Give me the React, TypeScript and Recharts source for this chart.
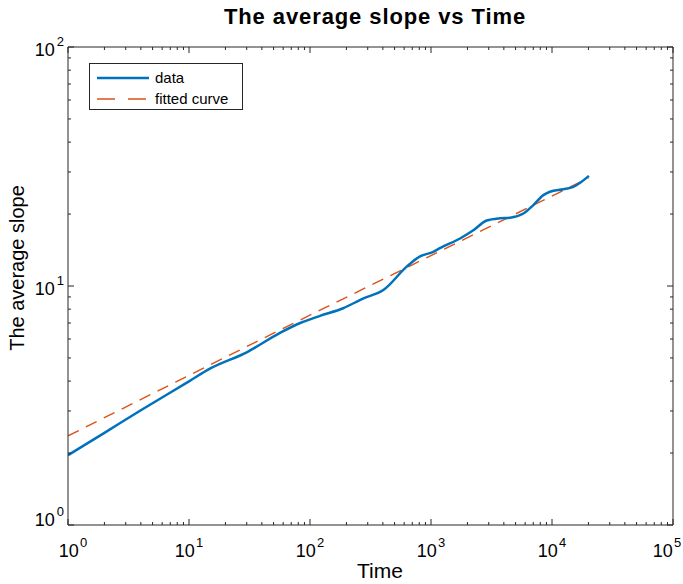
import React from "react";
import { LineChart, Line, XAxis, YAxis, Legend } from "recharts";

const dataX = [1, 2, 4, 10, 15, 30, 56, 83, 121, 188, 277, 404, 630, 811, 1045, 1186, 1738, 2238, 2886, 3720, 4500, 5800, 7010, 8480, 9620, 12400, 15000, 20200];
const dataY = [1.96, 2.43, 3.02, 3.99, 4.52, 5.28, 6.35, 7.0, 7.5, 8.07, 8.88, 9.62, 12.05, 13.3, 13.9, 14.4, 15.8, 17.1, 18.8, 19.2, 19.3, 20.1, 21.8, 24.0, 24.8, 25.4, 26.0, 28.9];

const fitX = [1, 56.5, 1000, 20000];
const fitY = [2.36, 6.55, 13.4, 28.3];

const xTicks = [1, 2, 3, 4, 5, 6, 7, 8, 9, 10, 20, 30, 40, 50, 60, 70, 80, 90, 100, 200, 300, 400, 500, 600, 700, 800, 900, 1000, 2000, 3000, 4000, 5000, 6000, 7000, 8000, 9000, 10000, 20000, 30000, 40000, 50000, 60000, 70000, 80000, 90000, 100000];
const yTicks = [1, 2, 3, 4, 5, 6, 7, 8, 9, 10, 20, 30, 40, 50, 60, 70, 80, 90, 100];

const dataSeries = dataX.map((x, i) => ({ x, y: dataY[i] }));
const fitSeries = fitX.map((x, i) => ({ x, y: fitY[i] }));

const AXIS = "#262626";
const BLUE = "#0072BD";
const ORANGE = "#D95319";
const FONT = "'Liberation Sans', Arial, Helvetica, sans-serif";

const exponent = (v: number) => {
  const e = Math.log10(v);
  return Math.abs(e - Math.round(e)) < 1e-9 ? Math.round(e) : null;
};

const BottomTick = (props: any) => {
  const { x, y, payload } = props;
  const e = exponent(payload.value);
  const len = e !== null ? 6 : 3;
  const shift = payload.value === 1 ? 5 : payload.value === 100000 ? -6 : 0;
  return (
    <g>
      <line x1={x} x2={x} y1={y} y2={y - len} stroke={AXIS} strokeWidth={1} />
      {e !== null && (
        <text x={x + shift} y={y + 32} textAnchor="middle" fontSize={18} fill="#000" fontFamily={FONT}>
          <tspan>10</tspan>
          <tspan dy={-10} dx={1} fontSize={13}>{e}</tspan>
        </text>
      )}
    </g>
  );
};

const TopTick = (props: any) => {
  const { x, y, payload } = props;
  const e = exponent(payload.value);
  const len = e !== null ? 6 : 3;
  return <line x1={x} x2={x} y1={y} y2={y + len} stroke={AXIS} strokeWidth={1} />;
};

const LeftTick = (props: any) => {
  const { x, y, payload } = props;
  const e = exponent(payload.value);
  const len = e !== null ? 6 : 3;
  const base = payload.value === 1 ? y + 1 : y + 9;
  return (
    <g>
      <line x1={x} x2={x + len} y1={y} y2={y} stroke={AXIS} strokeWidth={1} />
      {e !== null && (
        <text x={x - 4} y={base} textAnchor="end" fontSize={18} fill="#000" fontFamily={FONT}>
          <tspan>10</tspan>
          <tspan dy={-10} dx={2} fontSize={13}>{e}</tspan>
        </text>
      )}
    </g>
  );
};

const RightTick = (props: any) => {
  const { x, y, payload } = props;
  const e = exponent(payload.value);
  const len = e !== null ? 6 : 3;
  return <line x1={x} x2={x - len} y1={y} y2={y} stroke={AXIS} strokeWidth={1} />;
};

const LegendBox = () => (
  <div
    style={{
      width: 154,
      height: 47,
      fontFamily: FONT,
      position: "relative",
    }}
  >
    <svg width={154} height={47} style={{ position: "absolute", left: 0, top: 0 }}>
      <rect x={0.5} y={0.5} width={153} height={46} fill="#fff" stroke={AXIS} strokeWidth={1} />
      <line x1={8} x2={60} y1={15} y2={15} stroke={BLUE} strokeWidth={2.5} />
      <line x1={8} x2={60} y1={36} y2={36} stroke={ORANGE} strokeWidth={1.5} strokeDasharray="18 13" />
      <text x={66} y={20} fontSize={15} fontFamily={FONT} fill="#000">data</text>
      <text x={66} y={41} fontSize={15} fontFamily={FONT} fill="#000">fitted curve</text>
    </svg>
  </div>
);

export default function App() {
  return (
    <div style={{ position: "absolute", left: 0, top: 0, width: 683, height: 584, background: "#fff" }}>
      <LineChart width={683} height={584} margin={{ top: 46, right: 9, bottom: 29, left: 8 }}>
        <XAxis
          xAxisId="b"
          dataKey="x"
          type="number"
          scale="log"
          domain={[1, 100000]}
          ticks={xTicks}
          interval={0}
          allowDataOverflow
          height={30}
          tickSize={0}
          tickMargin={0}
          tickLine={false}
          axisLine={{ stroke: AXIS, strokeWidth: 1 }}
          tick={<BottomTick />}
        />
        <XAxis
          xAxisId="t"
          orientation="top"
          dataKey="x"
          type="number"
          scale="log"
          domain={[1, 100000]}
          ticks={xTicks}
          interval={0}
          allowDataOverflow
          height={1}
          tickSize={0}
          tickMargin={0}
          tickLine={false}
          axisLine={{ stroke: AXIS, strokeWidth: 1 }}
          tick={<TopTick />}
        />
        <YAxis
          yAxisId="l"
          type="number"
          scale="log"
          domain={[1, 100]}
          ticks={yTicks}
          interval={0}
          allowDataOverflow
          width={60}
          tickSize={0}
          tickMargin={0}
          tickLine={false}
          axisLine={{ stroke: AXIS, strokeWidth: 1 }}
          tick={<LeftTick />}
        />
        <YAxis
          yAxisId="r"
          orientation="right"
          type="number"
          scale="log"
          domain={[1, 100]}
          ticks={yTicks}
          interval={0}
          allowDataOverflow
          width={1}
          tickSize={0}
          tickMargin={0}
          tickLine={false}
          axisLine={{ stroke: AXIS, strokeWidth: 1 }}
          tick={<RightTick />}
        />
        <Line
          xAxisId="b"
          yAxisId="l"
          data={fitSeries}
          dataKey="y"
          type="linear"
          stroke={ORANGE}
          strokeWidth={1.4}
          strokeDasharray="12 8"
          dot={false}
          activeDot={false}
          isAnimationActive={false}
          name="fitted curve"
        />
        <Line
          xAxisId="b"
          yAxisId="l"
          data={dataSeries}
          dataKey="y"
          type="monotone"
          stroke={BLUE}
          strokeWidth={2.5}
          dot={false}
          activeDot={false}
          isAnimationActive={false}
          name="data"
        />
        <Legend
          layout="vertical"
          align="center"
          verticalAlign="middle"
          content={<LegendBox />}
          wrapperStyle={{ position: "absolute", left: 89, top: 63, width: 154, height: 47 }}
        />
        <text x={375} y={24} textAnchor="middle" fontSize={22} fontWeight="bold" fontFamily={FONT} fill="#000" letterSpacing={0.9}>
          The average slope vs Time
        </text>
        <text x={380} y={578} textAnchor="middle" fontSize={21} fontFamily={FONT} fill="#000">
          Time
        </text>
        <text x={24} y={268} textAnchor="middle" fontSize={20} fontFamily={FONT} fill="#000" transform="rotate(-90, 24, 268)">
          The average slope
        </text>
      </LineChart>
    </div>
  );
}
